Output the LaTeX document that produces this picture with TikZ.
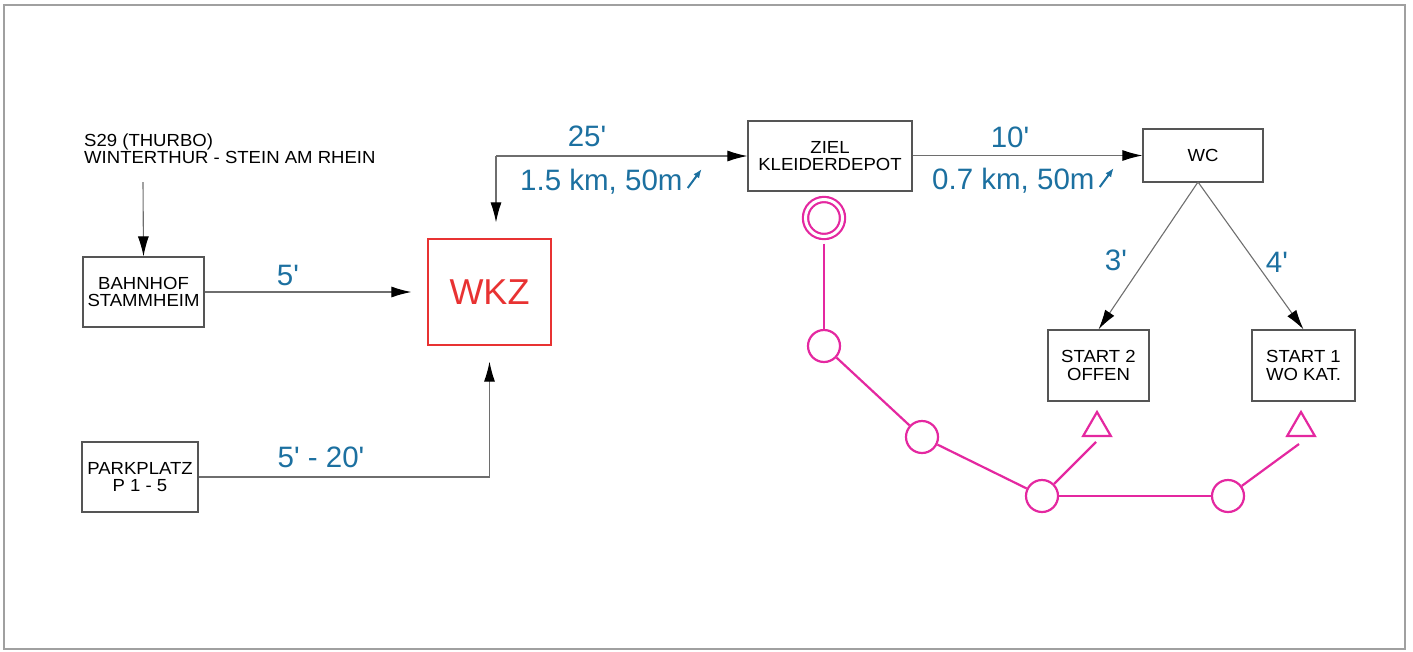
\documentclass[tikz,border=0pt]{standalone}
\usepackage{fontspec}
\setmainfont{Liberation Sans}
\newfontfamily\bxfont[FakeStretch=1.06]{Liberation Sans}
\newcommand\myprime{\textquotesingle}
\usetikzlibrary{arrows.meta,shapes.geometric}
\definecolor{lblue}{RGB}{28,112,160}
\definecolor{wkzred}{RGB}{232,50,50}
\definecolor{pinkc}{RGB}{228,40,160}
\definecolor{boxgray}{RGB}{85,85,85}
\definecolor{linegray}{RGB}{110,110,110}
\definecolor{framegray}{RGB}{160,160,160}
\begin{document}
\begin{tikzpicture}[x=1pt,y=-1pt,
  box/.style={draw=boxgray, line width=1.2pt, inner sep=0pt, align=center,
    font=\bxfont\fontsize{17.5}{17.5}\selectfont},
  plain/.style={inner sep=0pt, align=left, font=\bxfont\fontsize{17.5}{16.6}\selectfont},
  conn/.style={draw=linegray, line width=1.1pt, -{Latex[length=20pt,width=11pt,color=black]}},
  lbl/.style={text=lblue, inner sep=0pt, font=\fontsize{29.5}{29.5}\selectfont},
  climb/.style={draw=lblue, line width=2pt, -{Latex[length=9pt,width=7pt]}},
  pk/.style={draw=pinkc, line width=2.2pt, circle, minimum size=32pt, inner sep=0pt},
  pline/.style={draw=pinkc, line width=2.2pt},
  tri/.style={draw=pinkc, line width=2.2pt, regular polygon, regular polygon sides=3, minimum size=32pt, inner sep=0pt}]
\useasboundingbox (0,0) rectangle (1413,651);
\draw[framegray, line width=1.5pt] (4,5) rectangle (1405,649);

% boxes
\node[plain, anchor=north west] (s29) at (84,134) {S29 (THURBO)\\WINTERTHUR - STEIN AM RHEIN};
\node[box, minimum width=121pt, minimum height=70pt] (bahnhof) at (143.5,292) {BAHNHOF\\STAMMHEIM};
\node[box, minimum width=116pt, minimum height=70pt] (park) at (140,477) {PARKPLATZ\\P 1 - 5};
\node[draw=wkzred, line width=1.2pt, minimum width=123pt, minimum height=106pt, inner sep=0pt,
      text=wkzred, font=\fontsize{36}{36}\selectfont] (wkz) at (489.5,292) {WKZ};
\node[box, minimum width=164pt, minimum height=70pt] (ziel) at (830,156) {ZIEL\\KLEIDERDEPOT};
\node[box, minimum width=120pt, minimum height=53pt] (wc) at (1203,155.5) {WC};
\node[box, minimum width=101pt, minimum height=71pt] (s2) at (1098.5,365.5) {START 2\\OFFEN};
\node[box, minimum width=103pt, minimum height=71pt] (s1) at (1303.5,365.5) {START 1\\WO KAT.};

% connectors
\coordinate (s29end) at (143,182);
\draw[conn] (s29end) -- (bahnhof.north);
\draw[conn, shorten >=16pt] (bahnhof.east) -- (wkz.west);
\draw[conn, shorten >=16pt] (park.east) -| (wkz.south);
\coordinate (corner) at (496,156);
\draw[conn, shorten >=16pt] (corner) -- (corner |- wkz.north);
\draw[conn] (corner) -- (corner -| ziel.west);
\draw[conn] (ziel.east |- wc.west) -- (wc.west);
\coordinate (apex) at (1198,182);
\draw[conn] (apex) -- (s2.north);
\draw[conn] (apex) -- (s1.north);

% labels
\node[lbl] (l5) at (288,275) {5\myprime};
\node[lbl] (l520) at (321,457) {5\myprime{} - 20\myprime};
\node[lbl] (l25) at (587,136) {25\myprime};
\node[lbl, anchor=base west] (l15) at (520,190) {1.5 km, 50m};
\draw[climb] ([xshift=5pt,yshift=2pt]l15.base east) -- ++(14,-19);
\node[lbl] (l10) at (1010,137) {10\myprime};
\node[lbl, anchor=base west] (l07) at (932,189) {0.7 km, 50m};
\draw[climb] ([xshift=5pt,yshift=2pt]l07.base east) -- ++(14,-19);
\node[lbl] (l3) at (1116,260) {3\myprime};
\node[lbl] (l4) at (1277,262) {4\myprime};

% pink course
\node[draw=pinkc, line width=2.2pt, double, double distance=3pt, circle, minimum size=37pt, inner sep=0pt] (dc) at (824,218) {};
\node[pk] (ca) at (824,346) {};
\node[pk] (cb) at (922,437) {};
\node[pk] (cc) at (1042,496) {};
\node[pk] (cd) at (1228,496) {};
\node[tri] (t2) at (1097,428) {};
\node[tri] (t1) at (1301,428) {};
\coordinate (t2end) at (1096,442);
\coordinate (t1end) at (1299,444);
\draw[pline, shorten <=6pt] (dc) -- (ca);
\draw[pline] (ca) -- (cb);
\draw[pline] (cb) -- (cc);
\draw[pline] (cc) -- (cd);
\draw[pline] (cc) -- (t2end);
\draw[pline] (cd) -- (t1end);
\end{tikzpicture}
\end{document}
